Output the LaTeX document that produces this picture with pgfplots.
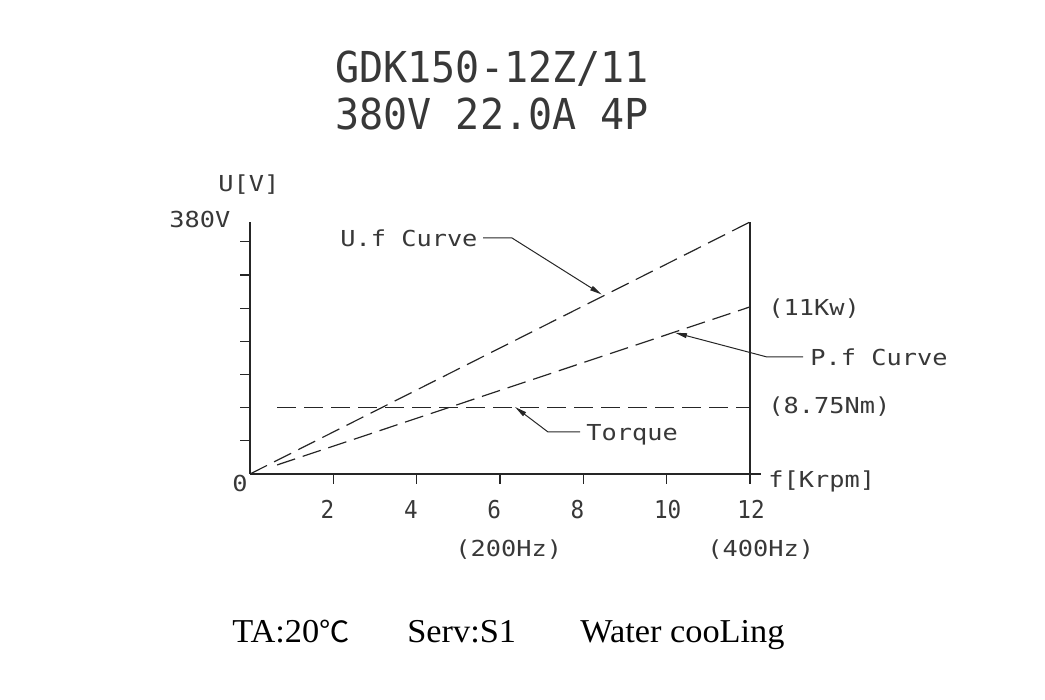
\documentclass[border=0pt]{standalone}
\usepackage{pgfplots}
\pgfplotsset{compat=1.18}
\usepackage{graphicx}
\usepackage{fontspec}
\usetikzlibrary{arrows.meta}
\newfontfamily\cad{DejaVu Sans Mono}
\newfontfamily\serifF{Liberation Serif}
\newfontfamily\cjk{Noto Sans CJK SC}
\newcommand\ann[1]{\scalebox{1.15}[1]{\cad\fontsize{11pt}{11pt}\selectfont #1}}
\newcommand\tl[1]{\scalebox{0.92}[1]{\cad\fontsize{12.3pt}{12.3pt}\selectfont #1}}
\newcommand\ttl[1]{\scalebox{0.94}[1]{\cad\fontsize{21.3pt}{21.3pt}\selectfont #1}}
\newcommand\btm[1]{\scalebox{1.08}[1.05]{\serifF\fontsize{15.9pt}{15.9pt}\selectfont #1}}
\colorlet{ink}{black!85}
\colorlet{tink}{black!78}
\begin{document}
\begin{tikzpicture}
\begin{axis}[
  at={(125pt,113pt)}, anchor=south west,
  scale only axis, width=250pt, height=126pt,
  xmin=0, xmax=12, ymin=0, ymax=380,
  axis x line=bottom, axis y line=left,
  axis line style={-, line width=0.6pt, ink},
  x axis line style={-}, y axis line style={-},
  xtick={2,4,6,8,10,12}, xticklabels={\tl{2},\tl{4},\tl{6},\tl{8},\tl{10},\tl{12}},
  ytick={50,100,150,200,250,300,350}, yticklabels={},
  tick align=outside, major tick length=5pt,
  tick style={line width=0.6pt, ink},
  xticklabel style={anchor=base west, inner sep=0pt, xshift=-6.5pt, yshift=-17.3pt, text=tink},
  clip=false,
]
\addplot[ink, line width=0.6pt, dash pattern=on 9.5pt off 4pt] coordinates {(0,0) (12,380)};
\addplot[ink, line width=0.6pt, dash pattern=on 9.5pt off 4pt] coordinates {(0.65,13.65) (12,252)};
\addplot[ink, line width=0.6pt, dash pattern=on 9.5pt off 4pt] coordinates {(0.65,100) (12,100)};
\draw[ink, line width=0.6pt] (axis cs:12,0) -- (axis cs:12,380);
\draw[ink, line width=0.6pt] (axis cs:12,0) -- ++(5.5pt,0pt);
\end{axis}
\begin{scope}[x=0.5pt,y=-0.5pt,yshift=350pt]
\path[use as bounding box] (0,0) rectangle (1045,700);
\begin{scope}[every node/.style={anchor=base west, inner sep=0pt, text=tink}]
\node at (335,83) {\ttl{GDK150-12Z/11}};
\node at (335,130) {\ttl{380V 22.0A 4P}};
\node at (218,192) {\ann{U[V]}};
\node at (169,228) {\ann{380V}};
\node at (232,492) {\ann{0}};
\node at (455,557) {\ann{(200Hz)}};
\node at (707,557) {\ann{(400Hz)}};
\node at (768,488) {\ann{f[Krpm]}};
\node at (768,316) {\ann{(11Kw)}};
\node at (810,366) {\ann{P.f Curve}};
\node at (768,414) {\ann{(8.75Nm)}};
\node at (586,441) {\ann{Torque}};
\node at (340,247) {\ann{U.f Curve}};
\end{scope}
\begin{scope}[every node/.style={anchor=base west, inner sep=0pt, text=black}]
\node at (232,643) {\btm{TA:20{\cjk\fontsize{14pt}{14pt}\selectfont ℃}}};
\node at (407,643) {\btm{Serv:S1}};
\node at (580,643) {\btm{Water cooLing}};
\end{scope}
\draw[ink, line width=0.5pt, -{Triangle[length=6pt,width=2.4pt]}] (483,238) -- (512,238) -- (601.7,294.5);
\draw[ink, line width=0.5pt, -{Triangle[length=6pt,width=2.4pt]}] (803,357) -- (767,357) -- (675,332.7);
\draw[ink, line width=0.5pt, -{Triangle[length=6pt,width=2.4pt]}] (580,432) -- (548,432) -- (515,407);
\end{scope}
\end{tikzpicture}
\end{document}
